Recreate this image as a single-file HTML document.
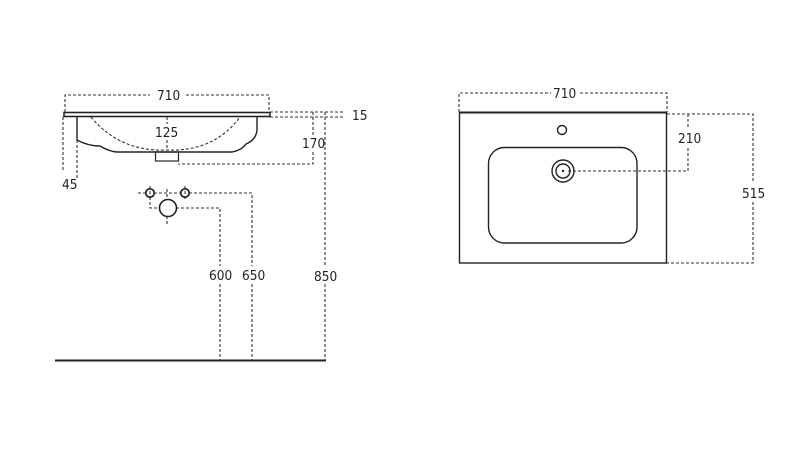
<!DOCTYPE html>
<html><head><style>
html,body{margin:0;padding:0;background:#fff;width:800px;height:449px;overflow:hidden}
svg{display:block}
text{font-family:"DejaVu Sans Condensed","Liberation Sans",sans-serif;font-size:13.5px;fill:#222}
</style></head><body>
<svg width="800" height="449" viewBox="0 0 800 449" xmlns="http://www.w3.org/2000/svg">
<g fill="none" stroke="#333" stroke-width="1.1" stroke-dasharray="3,2">
<path d="M65 112V95H150M186 95H269V112"/>
<path d="M270 112H345M270 117H345"/>
<path d="M313 112V136M313 152V164H178"/>
<path d="M325 112V266M325 284V360"/>
<path d="M63 117V172M77 140V178"/>
<path d="M167 117V124M167 140V150"/>
<path d="M91 117Q120 152 167 150Q214 152 240 117"/>
<path d="M150 186V200M185 186V200M167 189V200M167 216V224"/>
<path d="M138 193H146M154 193H181M189 193H252V266M252 284V360"/>
<path d="M150 197V208H160M176 208H220V266M220 284V360"/>
<path d="M459 112V93H551M580 93H667V112"/>
<path d="M667 114H753V182M753 202V263H667"/>
<path d="M688 114V128M688 148V171H568"/>
</g>
<g fill="none" stroke="#222">
<rect x="64" y="112.5" width="206" height="4" stroke-width="1.6"/>
<path d="M77 117V140Q88 146 100 146Q110 152 118 152H232Q242 150 246 144Q256 140 257 130V117" stroke-width="1.4"/>
<rect x="155.5" y="152" width="23" height="9" stroke-width="1.2"/>
<circle cx="150" cy="193" r="4.2" stroke-width="1.7"/>
<circle cx="185" cy="193" r="4.2" stroke-width="1.7"/>
<circle cx="168" cy="208" r="8.5" stroke-width="1.6"/>
<path d="M55 360.5H326" stroke-width="2"/>
<rect x="459.5" y="112.5" width="207" height="150.5" stroke-width="1.4"/>
<path d="M459 112.5H667" stroke-width="2"/>
<circle cx="562" cy="130" r="4.5" stroke-width="1.4"/>
<rect x="488.5" y="147.5" width="148.5" height="95.5" rx="16" stroke-width="1.4"/>
<circle cx="563" cy="171" r="11" stroke-width="1.4"/>
<circle cx="563" cy="171" r="7" stroke-width="1.4"/>
</g>
<circle cx="563" cy="171" r="1.2" fill="#222"/>
<g>
<text x="157" y="100">710</text>
<text x="352" y="120">15</text>
<text x="155" y="137">125</text>
<text x="302" y="148">170</text>
<text x="62" y="189">45</text>
<text x="209" y="280">600</text>
<text x="242" y="280">650</text>
<text x="314" y="281">850</text>
<text x="553" y="98">710</text>
<text x="678" y="143">210</text>
<text x="742" y="198">515</text>
</g>
</svg>
</body></html>
